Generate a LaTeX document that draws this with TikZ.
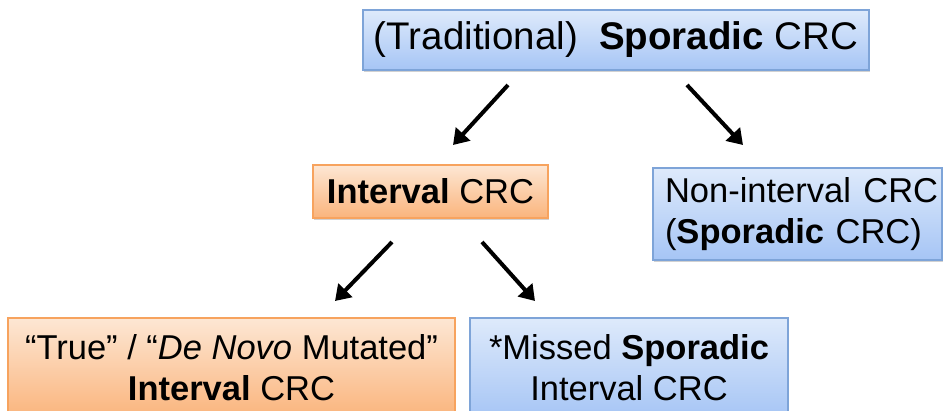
\documentclass[tikz,border=0pt]{standalone}
\usepackage{fontspec}
\setmainfont{Liberation Sans}
\usetikzlibrary{arrows.meta,shadows}

\definecolor{bluetop}{HTML}{DEEAFB}
\definecolor{bluebot}{HTML}{A6C5F5}
\definecolor{blueedge}{HTML}{7EA4D8}
\definecolor{orgtop}{HTML}{FDE7D4}
\definecolor{orgbot}{HTML}{FAB47C}
\definecolor{orgedge}{HTML}{F7A35E}

\begin{document}
\begin{tikzpicture}[x=1pt,y=-1pt,
  box/.style={draw, line width=1.2pt, inner sep=0pt, align=center,
    drop shadow={shadow xshift=0.5pt, shadow yshift=-2.5pt, opacity=0.3, fill=black!60}},
  bluebox/.style={box, draw=blueedge, top color=bluetop, bottom color=bluebot},
  orangebox/.style={box, draw=orgedge, top color=orgtop, bottom color=orgbot},
  flowarrow/.style={line width=4pt, -{Triangle[length=15pt,width=19pt]}},
  txt/.style={font=\fontsize{34.5}{41}\selectfont}]

  % page frame
  \clip (0,0) rectangle (944,411);

  % boxes
  \node[bluebox, minimum width=506pt, minimum height=60pt,
        font=\fontsize{38.5}{45}\selectfont] (trad) at (616,40)
        {(Traditional)\ \ \textbf{Sporadic} CRC};
  \node[orangebox, minimum width=235pt, minimum height=53pt, txt] (intv) at (430.5,191.5)
        {\textbf{Interval} CRC};
  \node[bluebox, minimum width=289pt, minimum height=92pt, txt,
        text width=265pt, align=left] (nonint) at (797.5,214)
        {\mbox{Non-interval\hspace{0.36em}CRC}\\(\textbf{Sporadic} CRC)};
  \node[orangebox, minimum width=447pt, minimum height=100pt, txt] (truei) at (231.5,368)
        {“True” / “\textit{De Novo} Mutated”\\\textbf{Interval} CRC};
  \node[bluebox, minimum width=318pt, minimum height=100pt, txt] (missed) at (629,368)
        {*Missed \textbf{Sporadic}\\Interval CRC};

  % arrow end points
  \coordinate (tradL) at (508,85);
  \coordinate (intvIn) at (453,145);
  \coordinate (tradR) at (687,85);
  \coordinate (nonintIn) at (743,145);
  \coordinate (intvL) at (392,242);
  \coordinate (trueIn) at (335,301);
  \coordinate (intvR) at (482,242);
  \coordinate (missedIn) at (535,301);

  % arrows
  \draw[flowarrow] (tradL) -- (intvIn);
  \draw[flowarrow] (tradR) -- (nonintIn);
  \draw[flowarrow] (intvL) -- (trueIn);
  \draw[flowarrow] (intvR) -- (missedIn);
\end{tikzpicture}
\end{document}
